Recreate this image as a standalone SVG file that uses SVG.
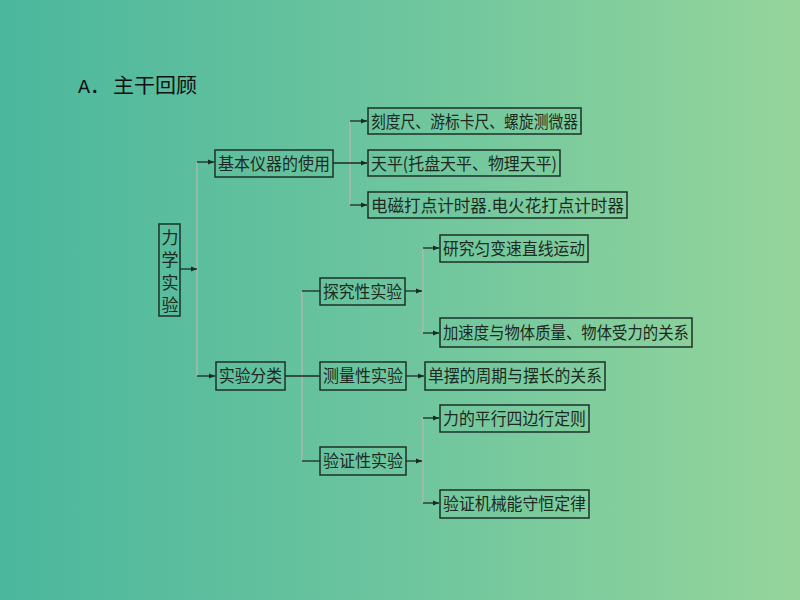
<svg xmlns="http://www.w3.org/2000/svg" width="800" height="600" viewBox="0 0 800 600">
<defs>
<linearGradient id="bg" x1="0" y1="0" x2="1" y2="0">
<stop offset="0" stop-color="#4bb79d"/>
<stop offset="0.5" stop-color="#6dc59e"/>
<stop offset="1" stop-color="#95d59b"/>
</linearGradient>
<marker id="ah" viewBox="0 0 6 6" refX="6" refY="3" markerWidth="6" markerHeight="6" markerUnits="userSpaceOnUse" orient="auto">
<path d="M0,0.5 L6,3 L0,5.5 Z" fill="#1a2a22"/>
</marker>
<style>
.box{fill:none;stroke:#1c3028;stroke-width:1.5}
.t{font-family:"Noto Sans CJK SC","Noto Sans",sans-serif;font-size:17px;fill:#1c2a22}
.v{stroke:#a8b8b0;stroke-width:1.5;fill:none}
.h{stroke:#1c2a22;stroke-width:1.3;fill:none}
.a{stroke:#1c2a22;stroke-width:1.3;fill:none;marker-end:url(#ah)}
</style>
</defs>
<rect width="800" height="600" fill="url(#bg)"/>
<text x="78" y="93" font-family="'Liberation Mono','Noto Sans CJK SC',monospace" font-size="20" fill="#111">A．</text>
<text x="113" y="93" font-family="'Noto Sans CJK SC',sans-serif" font-size="20" fill="#111" textLength="84" lengthAdjust="spacingAndGlyphs">主干回顾</text>

<g id="connectors">
<line class="v" x1="197" y1="162" x2="197" y2="376"/>
<line class="a" x1="180" y1="269" x2="197" y2="269"/>
<line class="a" x1="197" y1="162" x2="214" y2="162"/>
<line class="a" x1="197" y1="376" x2="215" y2="376"/>
<line class="v" x1="350" y1="121" x2="350" y2="205"/>
<line class="a" x1="333" y1="163" x2="367" y2="163"/>
<line class="a" x1="350" y1="121" x2="367" y2="121"/>
<line class="a" x1="350" y1="205" x2="367" y2="205"/>
<line class="v" x1="302" y1="291" x2="302" y2="461"/>
<line class="h" x1="302" y1="291" x2="320" y2="291"/>
<line class="h" x1="285" y1="376" x2="320" y2="376"/>
<line class="h" x1="302" y1="461" x2="320" y2="461"/>
<line class="v" x1="423" y1="248" x2="423" y2="333"/>
<line class="a" x1="405" y1="291" x2="422" y2="291"/>
<line class="a" x1="423" y1="248" x2="439" y2="248"/>
<line class="a" x1="423" y1="333" x2="439" y2="333"/>
<line class="a" x1="406" y1="376" x2="424" y2="376"/>
<line class="v" x1="423" y1="418" x2="423" y2="503"/>
<line class="a" x1="406" y1="461" x2="422" y2="461"/>
<line class="a" x1="423" y1="418" x2="439" y2="418"/>
<line class="a" x1="423" y1="503" x2="439" y2="503"/>
</g>

<g id="n-lixue">
<rect class="box" x="159" y="224" width="21" height="92"/>
<text class="t" x="170" y="229" style="writing-mode:vertical-rl" textLength="84" lengthAdjust="spacing">力学实验</text>
</g>
<g id="n-jiben">
<rect class="box" x="215" y="150" width="118" height="27"/>
<text class="t" x="218" y="170" textLength="112" lengthAdjust="spacingAndGlyphs">基本仪器的使用</text>
</g>
<g id="n-kedu">
<rect class="box" x="368" y="108" width="213" height="26"/>
<text class="t" x="371" y="128" textLength="207" lengthAdjust="spacingAndGlyphs">刻度尺、游标卡尺、螺旋测微器</text>
</g>
<g id="n-tianping">
<rect class="box" x="368" y="150" width="192" height="26"/>
<text class="t" x="371" y="170" textLength="186" lengthAdjust="spacingAndGlyphs">天平(托盘天平、物理天平)</text>
</g>
<g id="n-dianci">
<rect class="box" x="368" y="192" width="259" height="26"/>
<text class="t" x="371" y="212" textLength="253" lengthAdjust="spacingAndGlyphs">电磁打点计时器.电火花打点计时器</text>
</g>
<g id="n-fenlei">
<rect class="box" x="216" y="362" width="69" height="28"/>
<text class="t" x="219" y="382" textLength="63" lengthAdjust="spacingAndGlyphs">实验分类</text>
</g>
<g id="n-tanjiu">
<rect class="box" x="320" y="278" width="85" height="27"/>
<text class="t" x="323" y="298" textLength="79" lengthAdjust="spacingAndGlyphs">探究性实验</text>
</g>
<g id="n-yanjiu">
<rect class="box" x="440" y="235" width="148" height="27"/>
<text class="t" x="443" y="255" textLength="142" lengthAdjust="spacingAndGlyphs">研究匀变速直线运动</text>
</g>
<g id="n-jiasudu">
<rect class="box" x="440" y="318" width="252" height="29"/>
<text class="t" x="443" y="339" textLength="246" lengthAdjust="spacingAndGlyphs">加速度与物体质量、物体受力的关系</text>
</g>
<g id="n-celiang">
<rect class="box" x="320" y="362" width="86" height="28"/>
<text class="t" x="323" y="382" textLength="80" lengthAdjust="spacingAndGlyphs">测量性实验</text>
</g>
<g id="n-danbai">
<rect class="box" x="425" y="362" width="180" height="28"/>
<text class="t" x="428" y="382" textLength="174" lengthAdjust="spacingAndGlyphs">单摆的周期与摆长的关系</text>
</g>
<g id="n-li">
<rect class="box" x="440" y="405" width="149" height="27"/>
<text class="t" x="443" y="425" textLength="143" lengthAdjust="spacingAndGlyphs">力的平行四边行定则</text>
</g>
<g id="n-yanzheng">
<rect class="box" x="320" y="447" width="86" height="28"/>
<text class="t" x="323" y="467" textLength="80" lengthAdjust="spacingAndGlyphs">验证性实验</text>
</g>
<g id="n-jixie">
<rect class="box" x="440" y="490" width="149" height="28"/>
<text class="t" x="443" y="510" textLength="143" lengthAdjust="spacingAndGlyphs">验证机械能守恒定律</text>
</g>
</svg>
